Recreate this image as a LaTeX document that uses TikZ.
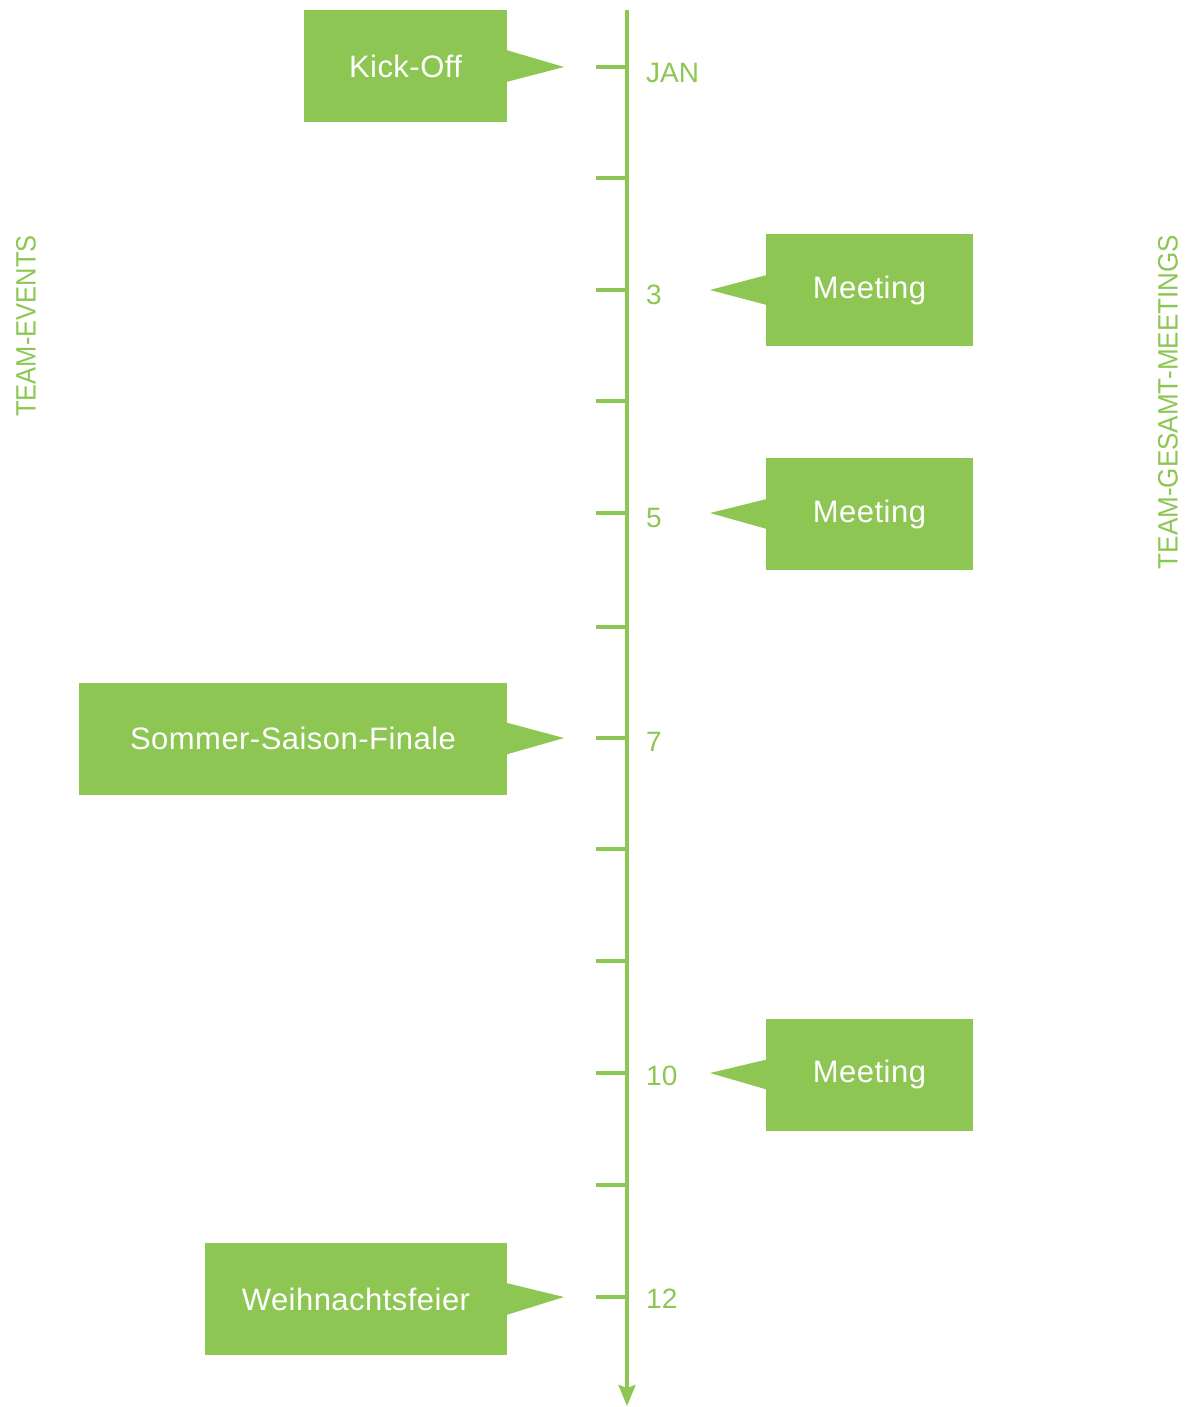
\documentclass[tikz,border=0pt]{standalone}
\usepackage{fontspec}
\setmainfont{Liberation Sans}
\newfontfamily\boxfont[LetterSpace=1.5]{Liberation Sans}
\usetikzlibrary{calc,arrows.meta}
\definecolor{tgreen}{HTML}{8DC653}
\tikzset{
  evbox/.style={fill=tgreen, text=white, minimum height=112pt, inner sep=0pt,
    font=\boxfont\fontsize{31}{36}\selectfont},
  monthlbl/.style={anchor=base west, text=tgreen, inner sep=0pt,
    font=\fontsize{28}{32}\selectfont},
  sidelbl/.style={text=tgreen, rotate=90, inner sep=0pt,
    font=\fontsize{28}{32}\selectfont},
  axisline/.style={draw=tgreen, line width=3.5pt},
  tickline/.style={draw=tgreen, line width=3.5pt},
  pointer/.style={fill=tgreen}
}
\begin{document}
\begin{tikzpicture}[x=1pt,y=-1pt]
\useasboundingbox (0,0) rectangle (1191,1407);
% axis
\coordinate (top) at (627,10);
\coordinate (bot) at (627,1406);
\draw[axisline, -{Stealth[length=21pt,width=17pt,inset=3pt]}] (top) -- (bot);
% ticks
\foreach \i/\y in {1/67,2/178,3/290,4/401,5/513,6/627,7/738,8/849,9/961,10/1073,11/1185,12/1297}{
  \coordinate (t\i) at (627,\y);
  \draw[tickline] (t\i) -- ++(-31,0);
}
% month labels
\node[monthlbl] (mJAN) at ($(t1)+(19,16)$) {JAN};
\node[monthlbl] (m3) at ($(t3)+(19,14)$) {3};
\node[monthlbl] (m5) at ($(t5)+(19,14)$) {5};
\node[monthlbl] (m7) at ($(t7)+(19,13)$) {7};
\node[monthlbl] (m10) at ($(t10)+(19,12)$) {10};
\node[monthlbl] (m12) at ($(t12)+(19,11)$) {12};
% side labels
\node[sidelbl] (sleft) at (26,326) {\scalebox{0.91}[1]{TEAM-EVENTS}};
\node[sidelbl] (sright) at (1168,402) {\scalebox{0.93}[1]{TEAM-GESAMT-MEETINGS}};
% left events
\node[evbox, minimum width=203pt] (kick) at (405.5,66) {Kick-Off};
\node[evbox, minimum width=428pt] (sommer) at (293,738.5) {Sommer-Saison-Finale};
\node[evbox, minimum width=302pt] (weih) at (356,1299) {Weihnachtsfeier};
\foreach \b/\t in {kick/t1,sommer/t7,weih/t12}{
  \fill[pointer] ($(\b.east)+(-1,-16)$) -- ($(\t)+(-63,0)$) -- ($(\b.east)+(-1,16)$) -- cycle;
}
% right meetings
\node[evbox, minimum width=207pt] (meet3) at (869.5,290) {Meeting};
\node[evbox, minimum width=207pt] (meet5) at (869.5,514) {Meeting};
\node[evbox, minimum width=207pt] (meet10) at (869.5,1074.5) {Meeting};
\foreach \b/\t in {meet3/t3,meet5/t5,meet10/t10}{
  \fill[pointer] ($(\b.west)+(1,-15)$) -- ($(\t)+(83,0)$) -- ($(\b.west)+(1,15)$) -- cycle;
}
\end{tikzpicture}
\end{document}
